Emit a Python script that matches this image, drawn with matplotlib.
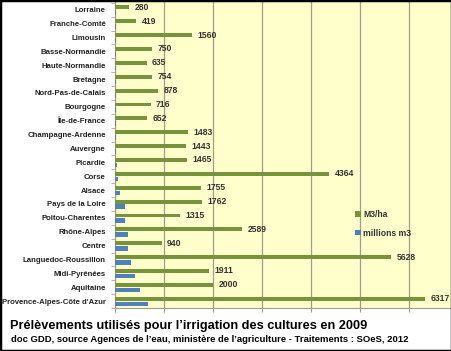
import matplotlib
matplotlib.use('Agg')
from matplotlib import pyplot as plt
from matplotlib.patches import Rectangle
import numpy as np

regions = ["Lorraine", "Franche-Comté", "Limousin", "Basse-Normandie", "Haute-Normandie",
           "Bretagne", "Nord-Pas-de-Calais", "Bourgogne", "Île-de-France", "Champagne-Ardenne",
           "Auvergne", "Picardie", "Corse", "Alsace", "Pays de la Loire", "Poitou-Charentes",
           "Rhône-Alpes", "Centre", "Languedoc-Roussillon", "Midi-Pyrénées", "Aquitaine",
           "Provence-Alpes-Côte d'Azur"]
m3_ha = [280, 419, 1560, 750, 635, 754, 878, 716, 652, 1483, 1443, 1465, 4364, 1755, 1762,
         1315, 2589, 940, 5628, 1911, 2000, 6317]
millions_m3 = [5, 8, 10, 10, 12, 15, 15, 18, 20, 20, 20, 25, 45, 90, 195, 195, 265, 265,
               315, 400, 500, 670]

plt.rcParams['font.family'] = ['Liberation Sans', 'DejaVu Sans']

fig = plt.figure(figsize=(4.52, 3.51), dpi=100)
ax = fig.add_axes([0.2555, 0.1225, 0.7445, 0.8715])
ax.set_facecolor('#FFFFCC')

y = np.arange(len(regions))
green = '#77933C'
blue = '#4F81BD'
ax.barh(y - 0.17, m3_ha, height=0.28, color=green, label='M3/ha', zorder=3)
ax.barh(y + 0.2, millions_m3, height=0.33, color=blue, label='millions m3', zorder=3)

for yi, v in zip(y, m3_ha):
    ax.text(v + 110, yi - 0.17, str(v), va='center', ha='left', fontsize=6.2,
            fontweight='bold', color='#333333', zorder=4)

ax.set_xlim(0, 6870)
ax.set_ylim(len(regions) - 0.55, -0.55)
ax.set_xticks(range(0, 7000, 1000))
ax.set_xticklabels([])
ax.xaxis.grid(True, color='#A09E86', linewidth=0.9, zorder=0)
ax.set_yticks(y)
ax.set_yticklabels(regions, fontsize=5.6, fontweight='bold', color='#222222')
ax.set_yticks(np.arange(-0.5, len(regions), 1), minor=True)
ax.tick_params(axis='y', which='major', length=0, pad=7)
ax.tick_params(axis='y', which='minor', length=3, color='#C89AB0')
ax.tick_params(axis='x', length=3, color='#A09E86')
for s in ['top', 'right']:
    ax.spines[s].set_visible(False)
ax.spines['left'].set_color('#A09E86')
ax.spines['bottom'].set_color('#A09E86')

leg = ax.legend(loc='upper left', bbox_to_anchor=(0.69, 0.345), frameon=False,
                fontsize=6.2, handlelength=0.6, handleheight=0.6, handletextpad=0.3,
                labelspacing=1.1)
for t in leg.get_texts():
    t.set_fontweight('bold')
    t.set_color('#333333')

fig.text(0.022, 0.072, "Prélèvements utilisés pour l\u2019irrigation des cultures en 2009",
         fontsize=9.2, fontweight='bold', va='center')
fig.text(0.024, 0.032, "doc GDD, source Agences de l\u2019eau, ministère de l\u2019agriculture - Traitements : SOeS, 2012",
         fontsize=6.8, fontweight='bold', va='center')

fig.patches.append(Rectangle((0, 0), 1, 1, transform=fig.transFigure, fill=False,
                             edgecolor='black', linewidth=2.5, zorder=10))

fig.savefig('out.png', dpi=100)
